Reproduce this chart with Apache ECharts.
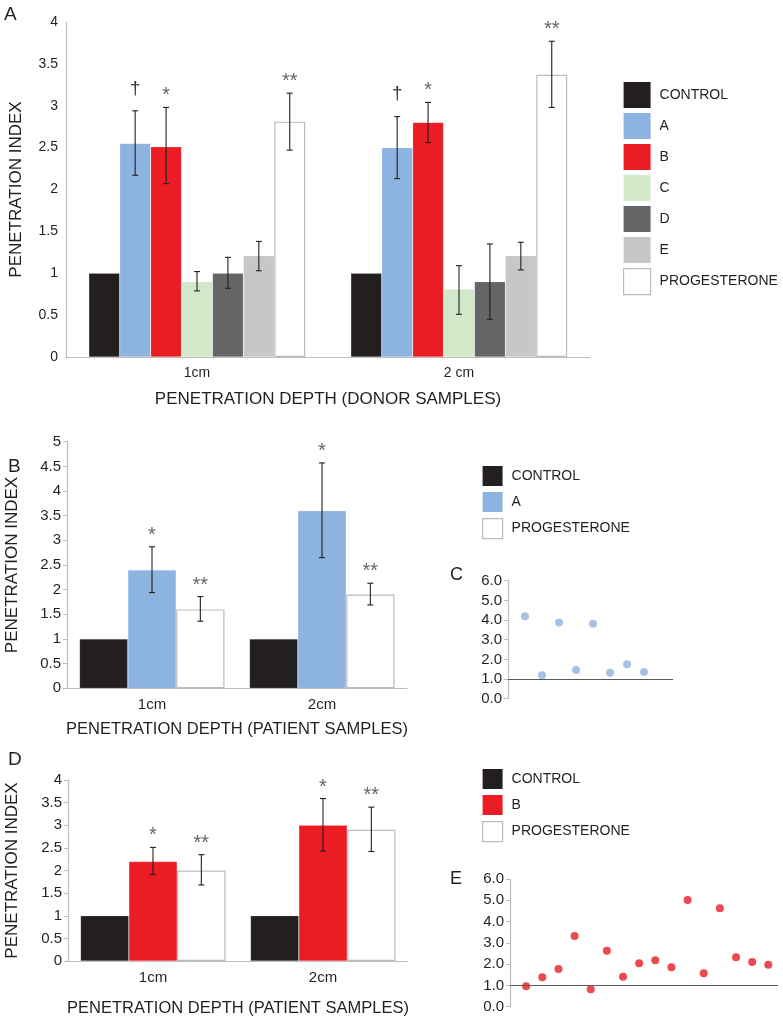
<!DOCTYPE html>
<html>
<head>
<meta charset="utf-8">
<script src="https://cdn.jsdelivr.net/npm/echarts@6/dist/echarts.min.js"></script>
<style>
html,body{margin:0;padding:0;background:#fff;}
#chart{width:783px;height:1018px;}
</style>
</head>
<body>
<div id="chart"></div>
<script>
// ---------- DATA ----------
// Panel A (donor samples)
const catsA = ['1cm', '2 cm'];
const namesA = ['CONTROL', 'A', 'B', 'C', 'D', 'E', 'PROGESTERONE'];
const ctrlA = [1, 1];
const aA = [2.55, 2.50];
const bA = [2.51, 2.80];
const cA = [0.90, 0.81];
const dA = [1.00, 0.90];
const eA = [1.21, 1.21];
const progA = [2.81, 3.37];
const aA_err = [[2.17, 2.94], [2.13, 2.87]];
const bA_err = [[2.07, 2.98], [2.56, 3.04]];
const cA_err = [[0.79, 1.02], [0.51, 1.09]];
const dA_err = [[0.82, 1.19], [0.45, 1.35]];
const eA_err = [[1.03, 1.38], [1.04, 1.37]];
const progA_err = [[2.47, 3.15], [2.98, 3.77]];
const aA_mark = ['†', '†'];
const bA_mark = ['*', '*'];
const progA_mark = ['**', '**'];

// Panel B (patient samples, A)
const catsB = ['1cm', '2cm'];
const namesB = ['CONTROL', 'A', 'PROGESTERONE'];
const ctrlB = [1, 1];
const aB = [2.40, 3.60];
const progB = [1.60, 1.90];
const aB_err = [[1.94, 2.87], [2.65, 4.57]];
const progB_err = [[1.36, 1.86], [1.69, 2.13]];
const aB_mark = ['*', '*'];
const progB_mark = ['**', '**'];

// Panel C (individual patients, A)
const ptsC = [4.19, 1.19, 3.88, 1.46, 3.81, 1.32, 1.75, 1.36];

// Panel D (patient samples, B)
const catsD = ['1cm', '2cm'];
const namesD = ['CONTROL', 'B', 'PROGESTERONE'];
const ctrlD = [1, 1];
const bD = [2.20, 3.00];
const progD = [2.00, 2.90];
const bD_err = [[1.91, 2.51], [2.43, 3.59]];
const progD_err = [[1.68, 2.35], [2.42, 3.40]];
const bD_mark = ['*', '*'];
const progD_mark = ['**', '**'];

// Panel E (individual patients, B)
const ptsE = [0.96, 1.38, 1.77, 3.32, 0.82, 2.63, 1.41, 2.04, 2.18, 1.85, 5.01, 1.57, 4.62, 2.32, 2.10, 1.97];

// ---------- STYLE ----------
const FONT = 'Liberation Sans, Arial, sans-serif';
const COL = {
  CONTROL: '#231f20', A: '#8db3e0', B: '#ec1c24', C: '#d1e8c9',
  D: '#646567', E: '#c6c7c9', PROGESTERONE: '#ffffff'
};
const AXIS_GRAY = '#bdbdbd';
const TEXT = '#231f20';

const chart = echarts.init(document.getElementById('chart'));

function barSeries(name, data, gi, gap) {
  const isProg = name === 'PROGESTERONE';
  return {
    type: 'bar', name: name, data: data,
    xAxisIndex: gi, yAxisIndex: gi,
    barGap: '0%', barCategoryGap: gap,
    itemStyle: {
      color: COL[name],
      borderColor: isProg ? '#bcbcbc' : 'rgba(255,255,255,0.25)',
      borderWidth: isProg ? 1.2 : 0.6
    },
    silent: true, animation: false, z: 2
  };
}

function errSeries(gi, nSeries, gapFrac, sIdx, errs, marks) {
  return {
    type: 'custom', xAxisIndex: gi, yAxisIndex: gi, silent: true, animation: false, z: 5,
    data: errs.map((e, i) => [i, e[0], e[1]]),
    encode: { x: 0, y: [1, 2] },
    renderItem: function (params, api) {
      const cat = api.value(0), lo = api.value(1), hi = api.value(2);
      const band = api.size([1, 0])[0];
      const bw = band * (1 - gapFrac) / nSeries;
      const x = api.coord([cat, 0])[0] + (sIdx - (nSeries - 1) / 2) * bw;
      const yLo = api.coord([cat, lo])[1];
      const yHi = api.coord([cat, hi])[1];
      const st = { stroke: '#231f20', lineWidth: 1.1 };
      const ch = [
        { type: 'line', shape: { x1: x, y1: yLo, x2: x, y2: yHi }, style: st },
        { type: 'line', shape: { x1: x - 3, y1: yHi, x2: x + 3, y2: yHi }, style: st },
        { type: 'line', shape: { x1: x - 3, y1: yLo, x2: x + 3, y2: yLo }, style: st }
      ];
      if (marks) {
        const m = marks[params.dataIndex];
        const isDagger = m === '†';
        ch.push({
          type: 'text',
          style: {
            text: m, x: x, y: yHi - (isDagger ? 13 : 1.5),
            align: 'center', verticalAlign: 'bottom',
            fill: isDagger ? '#333' : '#666',
            font: (isDagger ? '19px ' : '20px ') + FONT
          }
        });
      }
      return { type: 'group', children: ch };
    }
  };
}

function valueAxis(gi, max, interval, fs, showTicks, fmt) {
  return {
    type: 'value', gridIndex: gi, min: 0, max: max, interval: interval,
    axisLine: { show: true, lineStyle: { color: AXIS_GRAY, width: 1.2 } },
    axisTick: { show: showTicks, length: 4, lineStyle: { color: AXIS_GRAY } },
    splitLine: { show: false },
    axisLabel: { color: TEXT, fontSize: fs, fontFamily: FONT, margin: showTicks ? 6 : 8,
      formatter: fmt || null }
  };
}

function catAxis(gi, cats, fs, title, titleFs, gap) {
  return {
    type: 'category', gridIndex: gi, data: cats,
    axisLine: { show: true, lineStyle: { color: AXIS_GRAY, width: 1.2 } },
    axisTick: { show: false },
    axisLabel: { color: TEXT, fontSize: fs, fontFamily: FONT, margin: 9 },
    name: title, nameLocation: 'middle', nameGap: gap,
    nameTextStyle: { color: TEXT, fontSize: titleFs, fontFamily: FONT }
  };
}

function legendFor(names, left, top, size, gap) {
  return {
    orient: 'vertical', left: left, top: top, itemWidth: size, itemHeight: size - (size > 24 ? 1 : 0),
    itemGap: gap, selectedMode: false, icon: 'rect',
    textStyle: { color: TEXT, fontSize: 14, fontFamily: FONT, padding: [0, 0, 0, 4] },
    data: names.map(n => ({
      name: n, icon: 'rect',
      itemStyle: { color: COL[n], borderColor: n === 'PROGESTERONE' ? '#bcbcbc' : COL[n], borderWidth: n === 'PROGESTERONE' ? 1.2 : 0 }
    }))
  };
}

const gapA = 0.174, gapB = 0.147;
const fmt1 = v => v.toFixed(1);
const yTitle = (gap) => ({
  name: 'PENETRATION INDEX', nameLocation: 'middle', nameGap: gap,
  nameTextStyle: { color: TEXT, fontSize: 17, fontFamily: FONT }
});

const option = {
  backgroundColor: '#fff',
  animation: false,
  textStyle: { fontFamily: FONT },
  grid: [
    { left: 62, top: 22, width: 528, height: 335 },
    { left: 67, top: 441.7, width: 340, height: 246.6 },
    { left: 508, top: 580.7, width: 165, height: 118 },
    { left: 68, top: 780, width: 340, height: 188.3 },
    { left: 510, top: 879, width: 268, height: 127.7 }
  ],
  xAxis: [
    catAxis(0, catsA, 14, 'PENETRATION DEPTH (DONOR SAMPLES)', 17, 34),
    catAxis(1, catsB, 15, '', 16, 40),
    { type: 'value', gridIndex: 2, min: 0, max: 9.7, show: false },
    catAxis(3, catsD, 15, 'PENETRATION DEPTH (PATIENT SAMPLES)', 16.5, 39),
    { type: 'value', gridIndex: 4, min: 0, max: 16.6, show: false }
  ],
  yAxis: [
    Object.assign(valueAxis(0, 4, 0.5, 14, false), yTitle(41)),
    Object.assign(valueAxis(1, 5, 0.5, 15, true), yTitle(46)),
    valueAxis(2, 6, 1, 15, true, fmt1),
    Object.assign(valueAxis(3, 4, 0.5, 15, true), yTitle(47)),
    valueAxis(4, 6, 1, 15, true, fmt1)
  ],
  legend: [
    legendFor(namesA, 618, 77, 27, 5),
    legendFor(namesB, 477, 461, 20, 6),
    legendFor(namesD, 477, 764, 20, 6)
  ],
  graphic: [
    { type: 'text', left: 4, top: 5, style: { text: 'A', font: '19px ' + FONT, fill: TEXT } },
    { type: 'text', left: 8, top: 457, style: { text: 'B', font: '19px ' + FONT, fill: TEXT } },
    { type: 'text', left: 450, top: 566, style: { text: 'C', font: '18px ' + FONT, fill: TEXT } },
    { type: 'text', left: 8, top: 750, style: { text: 'D', font: '19px ' + FONT, fill: TEXT } },
    { type: 'text', left: 450, top: 870, style: { text: 'E', font: '18px ' + FONT, fill: TEXT } },
    { type: 'text', x: 237, y: 729, style: { text: 'PENETRATION DEPTH (PATIENT SAMPLES)', font: '16.5px ' + FONT, fill: TEXT, align: 'center', verticalAlign: 'middle' } }
  ],
  series: [
    // Panel A
    barSeries('CONTROL', ctrlA, 0, gapA * 100 + '%'),
    barSeries('A', aA, 0, gapA * 100 + '%'),
    barSeries('B', bA, 0, gapA * 100 + '%'),
    barSeries('C', cA, 0, gapA * 100 + '%'),
    barSeries('D', dA, 0, gapA * 100 + '%'),
    barSeries('E', eA, 0, gapA * 100 + '%'),
    barSeries('PROGESTERONE', progA, 0, gapA * 100 + '%'),
    errSeries(0, 7, gapA, 1, aA_err, aA_mark),
    errSeries(0, 7, gapA, 2, bA_err, bA_mark),
    errSeries(0, 7, gapA, 3, cA_err, null),
    errSeries(0, 7, gapA, 4, dA_err, null),
    errSeries(0, 7, gapA, 5, eA_err, null),
    errSeries(0, 7, gapA, 6, progA_err, progA_mark),
    // Panel B
    barSeries('CONTROL', ctrlB, 1, gapB * 100 + '%'),
    barSeries('A', aB, 1, gapB * 100 + '%'),
    barSeries('PROGESTERONE', progB, 1, gapB * 100 + '%'),
    errSeries(1, 3, gapB, 1, aB_err, aB_mark),
    errSeries(1, 3, gapB, 2, progB_err, progB_mark),
    // Panel C
    {
      type: 'scatter', xAxisIndex: 2, yAxisIndex: 2, silent: true, animation: false,
      data: ptsC.map((v, i) => [i + 1, v]), symbolSize: 8,
      itemStyle: { color: '#8db3e0' },
      markLine: { silent: true, symbol: 'none', label: { show: false },
        lineStyle: { color: '#5a5a5a', width: 1.2, type: 'solid' }, data: [{ yAxis: 1 }] }
    },
    // Panel D
    barSeries('CONTROL', ctrlD, 3, gapB * 100 + '%'),
    barSeries('B', bD, 3, gapB * 100 + '%'),
    barSeries('PROGESTERONE', progD, 3, gapB * 100 + '%'),
    errSeries(3, 3, gapB, 1, bD_err, bD_mark),
    errSeries(3, 3, gapB, 2, progD_err, progD_mark),
    // Panel E
    {
      type: 'scatter', xAxisIndex: 4, yAxisIndex: 4, silent: true, animation: false,
      data: ptsE.map((v, i) => [i + 1, v]), symbolSize: 8,
      itemStyle: { color: '#e91c24' },
      markLine: { silent: true, symbol: 'none', label: { show: false },
        lineStyle: { color: '#5a5a5a', width: 1.2, type: 'solid' }, data: [{ yAxis: 1 }] }
    }
  ]
};
chart.setOption(option);
</script>
</body>
</html>
